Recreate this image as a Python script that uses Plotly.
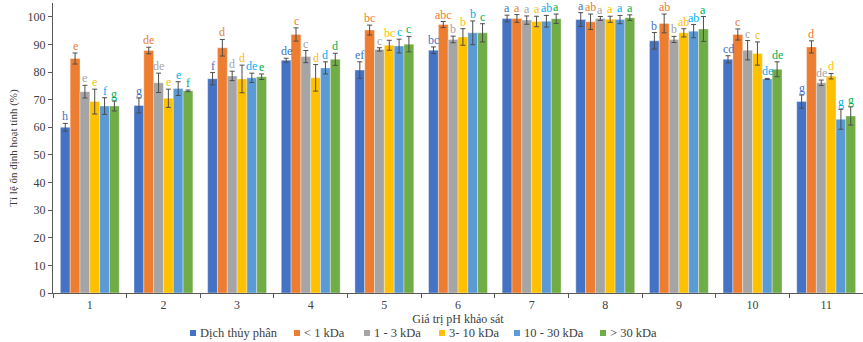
import plotly.graph_objects as go

# pH values tested
ph_levels = ["1", "2", "3", "4", "5", "6", "7", "8", "9", "10", "11"]

# Series names (hydrolysate and its ultrafiltration fractions)
series_names = ["Dịch thủy phân", "< 1 kDa", "1 - 3 kDa", "3- 10 kDa", "10 - 30 kDa", "> 30 kDa"]

# Relative residual activity (%) per pH for each fraction
hydrolysate = [60.0, 67.9, 77.6, 84.3, 80.7, 87.9, 99.4, 99.0, 91.3, 84.6, 69.3]
below_1k = [84.9, 87.8, 88.8, 93.6, 95.2, 97.2, 99.4, 98.2, 97.6, 93.6, 89.1]
k1_3 = [72.9, 76.1, 78.6, 85.6, 88.2, 91.8, 98.8, 99.4, 91.8, 87.9, 76.1]
k3_10 = [69.3, 70.5, 77.5, 77.9, 89.7, 92.7, 98.3, 99.1, 94.2, 86.7, 78.5]
k10_30 = [67.7, 74.0, 77.9, 81.5, 89.4, 94.2, 98.4, 99.0, 94.8, 77.5, 62.9]
above_30k = [67.7, 73.2, 78.3, 84.6, 90.1, 94.2, 99.3, 99.7, 95.6, 81.0, 64.1]

# Standard deviations
sd_hydrolysate = [1.4, 2.7, 2.2, 0.7, 3.0, 1.2, 1.2, 2.5, 3.0, 1.3, 2.4]
sd_below_1k = [2.0, 1.2, 3.0, 2.4, 1.8, 1.1, 1.4, 2.8, 3.4, 2.0, 2.2]
sd_k1_3 = [2.3, 3.5, 1.7, 2.2, 0.6, 1.2, 1.5, 0.7, 1.1, 3.5, 1.0]
sd_k3_10 = [4.5, 3.3, 5.0, 4.8, 1.8, 3.0, 1.9, 1.1, 1.5, 4.2, 1.0]
sd_k10_30 = [3.0, 2.5, 1.7, 2.2, 2.5, 4.3, 2.1, 1.5, 2.4, 0.2, 3.6]
sd_above_30k = [1.8, 0.3, 1.0, 2.2, 2.8, 3.3, 1.7, 1.0, 4.5, 2.7, 3.3]

# Significance letters
let_hydrolysate = ["h", "g", "f", "de", "ef", "bc", "a", "a", "b", "cd", "g"]
let_below_1k = ["e", "de", "d", "c", "bc", "abc", "a", "ab", "ab", "c", "d"]
let_k1_3 = ["e", "de", "d", "c", "c", "b", "a", "a", "b", "c", "de"]
let_k3_10 = ["e", "e", "d", "d", "bc", "b", "a", "a", "ab", "c", "d"]
let_k10_30 = ["f", "e", "de", "d", "c", "b", "ab", "a", "ab", "de", "g"]
let_above_30k = ["g", "f", "e", "d", "c", "c", "a", "a", "a", "de", "g"]

values = [hydrolysate, below_1k, k1_3, k3_10, k10_30, above_30k]
errors = [sd_hydrolysate, sd_below_1k, sd_k1_3, sd_k3_10, sd_k10_30, sd_above_30k]
letters = [let_hydrolysate, let_below_1k, let_k1_3, let_k3_10, let_k10_30, let_above_30k]

bar_colors = ["#4472C4", "#ED7D31", "#A5A5A5", "#FFC000", "#5B9BD5", "#70AD47"]
letter_colors = ["#4472C4", "#ED7D31", "#A5A5A5", "#FFC000", "#00B0F0", "#00B050"]

SERIF = "Liberation Serif"
TEXT = "#404040"
AXIS = "#595959"

W, H = 863, 342
ml, mr, mt, mb = 53, 0, 3, 49
plot_w = W - ml - mr
plot_h = H - mt - mb
bargap = 0.2

fig = go.Figure()
for name, vals, errs, col in zip(series_names, values, errors, bar_colors):
    fig.add_trace(go.Bar(
        name=name, x=ph_levels, y=vals,
        marker=dict(color=col, line=dict(color="rgba(255,255,255,0.6)", width=0.6)),
        error_y=dict(type="data", array=errs, visible=True,
                     color="#4d4d4d", thickness=1, width=2.5),
        showlegend=False,
    ))

# Letter labels above each error bar, shifted onto their bar within the group
cat_w = plot_w / len(ph_levels)
bar_w = cat_w * (1 - bargap) / len(series_names)
annotations = []
shapes = []
for i, (vals, errs, lets, col) in enumerate(zip(values, errors, letters, letter_colors)):
    shift = (i - (len(series_names) - 1) / 2) * bar_w
    for k, (v, e, t) in enumerate(zip(vals, errs, lets)):
        annotations.append(dict(
            x=k, y=v + e, xref="x", yref="y", text=t, showarrow=False,
            xshift=shift, yanchor="bottom", yshift=-2,
            font=dict(family=SERIF, size=12, color=col),
        ))

# Compact legend row below the axis title
legend_px = [190, 294, 364, 439, 514, 600]
legend_y = 333
sq = 6
for px, name, col in zip(legend_px, series_names, bar_colors):
    x0 = (px - ml) / plot_w
    x1 = (px + sq - ml) / plot_w
    y0 = (H - mb - (legend_y + sq / 2)) / plot_h
    y1 = (H - mb - (legend_y - sq / 2)) / plot_h
    shapes.append(dict(type="rect", xref="paper", yref="paper",
                       x0=x0, x1=x1, y0=y0, y1=y1,
                       fillcolor=col, line=dict(width=0)))
    annotations.append(dict(
        x=(px + sq + 2 - ml) / plot_w, y=(H - mb - legend_y) / plot_h,
        xref="paper", yref="paper", xanchor="left", yanchor="middle",
        text=name, showarrow=False,
        font=dict(family=SERIF, size=12.5, color=TEXT),
    ))

fig.update_layout(
    width=W, height=H,
    margin=dict(l=ml, r=mr, t=mt, b=mb),
    paper_bgcolor="white", plot_bgcolor="white",
    barmode="group", bargap=bargap, bargroupgap=0,
    font=dict(family=SERIF, size=12, color=TEXT),
    annotations=annotations, shapes=shapes,
    showlegend=False,
)
fig.update_xaxes(
    type="category", range=[-0.5, len(ph_levels) - 0.5],
    showline=True, linecolor=AXIS, linewidth=1,
    ticks="outside", tickson="boundaries", ticklen=4, tickcolor=AXIS,
    ticklabelstandoff=1,
    showgrid=False, tickfont=dict(family=SERIF, size=12, color=TEXT),
    title=dict(text="Giá trị pH khảo sát", standoff=0,
               font=dict(family=SERIF, size=12, color=TEXT)),
)
fig.update_yaxes(
    range=[0, 105], dtick=10, tick0=0, showline=True, linecolor=AXIS, linewidth=1,
    ticks="outside", ticklen=4, tickcolor=AXIS, showgrid=False, zeroline=False,
    tickfont=dict(family=SERIF, size=12, color=TEXT),
    title=dict(text="Tỉ lệ ổn định hoạt tính (%)", standoff=7,
               font=dict(family=SERIF, size=11, color=TEXT)),
)

fig.write_html("out.html")
